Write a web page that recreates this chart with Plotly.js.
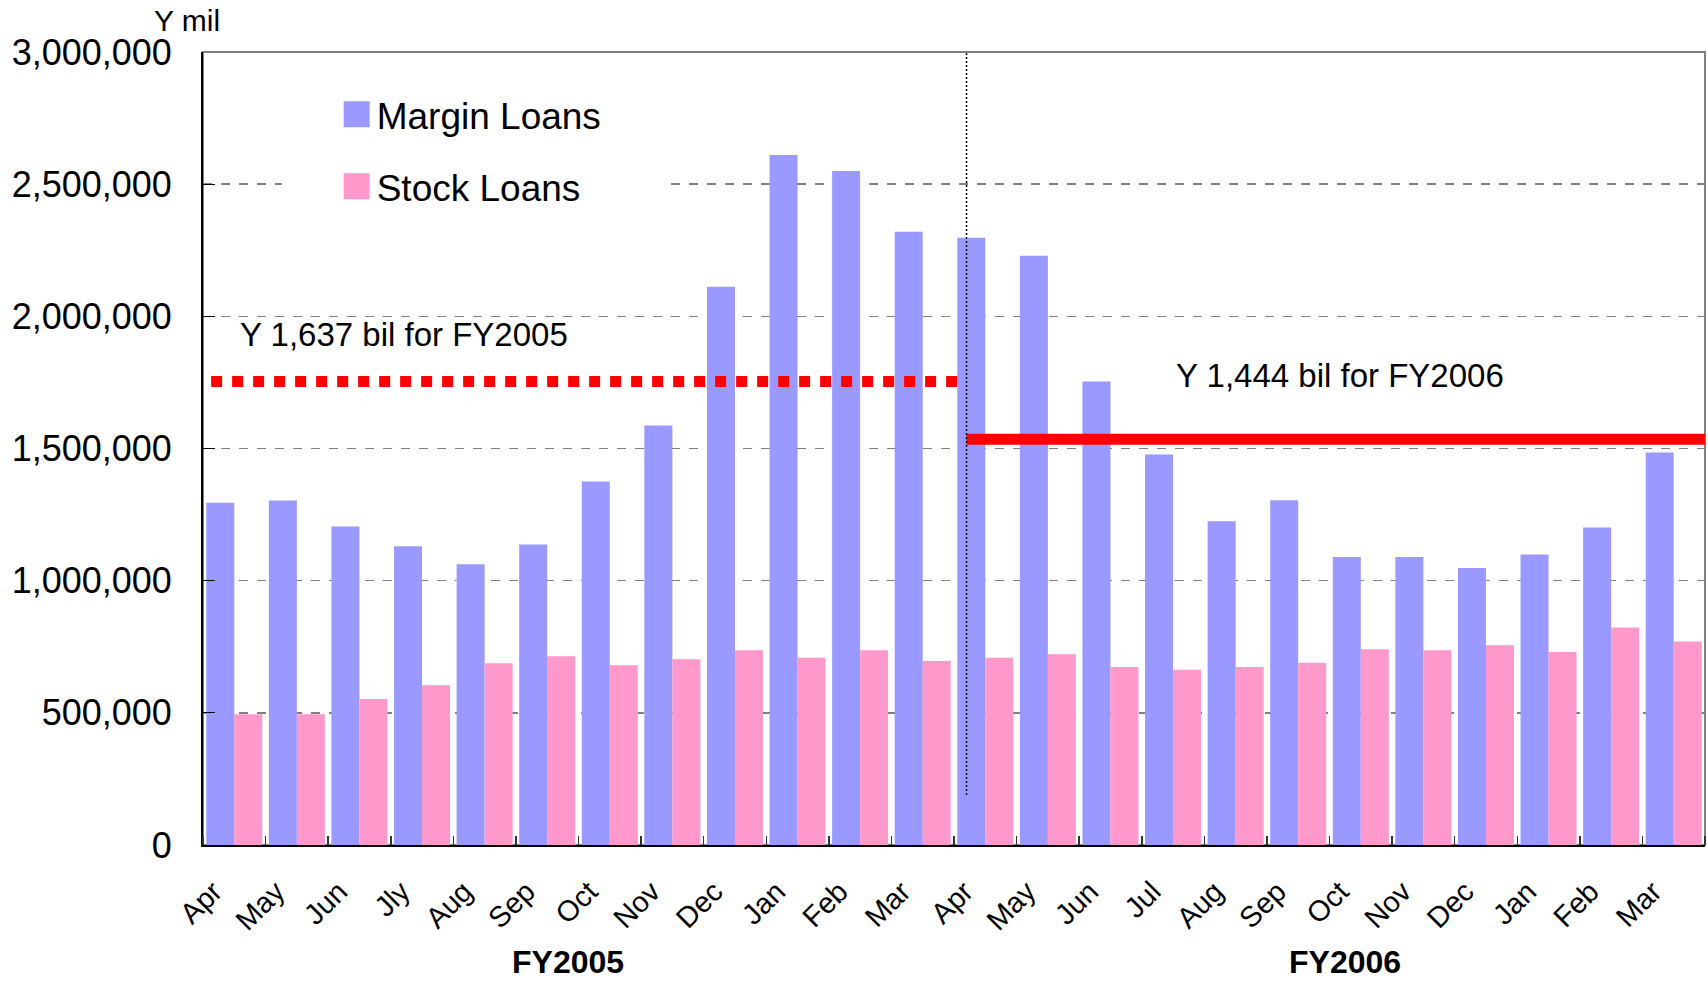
<!DOCTYPE html>
<html>
<head>
<meta charset="utf-8">
<script src="https://cdn.plot.ly/plotly-3.0.1.min.js"></script>
<style>html,body{margin:0;padding:0;background:#fff;}</style>
</head>
<body>
<div id="chart" style="width:1708px;height:987px;"></div>
<script>
// Month labels (FY2005 Apr..Mar, FY2006 Apr..Mar)
const months = ["Apr","May","Jun","Jly","Aug","Sep","Oct","Nov","Dec","Jan","Feb","Mar",
                "Apr","May","Jun","Jul","Aug","Sep","Oct","Nov","Dec","Jan","Feb","Mar"];
// Y mil
const marginLoans = [1295000,1303000,1205000,1130000,1062000,1137000,1375000,1587000,2112000,2610000,2550000,2320000,
                     2297000,2229000,1753000,1477000,1225000,1304000,1090000,1090000,1048000,1099000,1201000,1485000];
const stockLoans  = [495000,495000,552000,604000,688000,714000,680000,703000,737000,708000,737000,696000,
                     708000,722000,673000,663000,673000,689000,741000,737000,756000,730000,823000,770000];
const seriesNames = ["Margin Loans","Stock Loans"];
const fiscalYears = ["FY2005","FY2006"];
const avgLabels = ["Y 1,637 bil for FY2005","Y 1,444 bil for FY2006"];
const avgLineLevels = [1753000, 1535000];   // as drawn in the chart
const fyBoundary = 11.7;                    // divider between FY2005 and FY2006

const idx = months.map((m, i) => i);
const labelPos = idx.map(i => i - 0.33);

const traces = [
  {type:'bar', name:seriesNames[0], x:idx, y:marginLoans, marker:{color:'#9999FF'}, legendgroup:'g1'},
  {type:'bar', name:seriesNames[1], x:idx, y:stockLoans,  marker:{color:'#FF99CC'}, legendgroup:'g2'}
];

const fontFam = "Liberation Sans, Arial, sans-serif";

const layout = {
  width:1708, height:987,
  margin:{l:203, r:3, t:52, b:142},
  paper_bgcolor:'#fff', plot_bgcolor:'#fff',
  font:{family:fontFam, color:'#000'},
  barmode:'group', bargap:0.105, bargroupgap:0,
  showlegend:true,
  legend:{x:0.089, y:0.960, xanchor:'left', yanchor:'top', bgcolor:'rgba(255,255,255,0)',
          font:{size:37, family:fontFam}, tracegroupgap:21, traceorder:'grouped'},
  xaxis:{
    range:[-0.5, 23.5], tickmode:'array', tickvals:labelPos, ticktext:months,
    tickangle:-45, tickfont:{size:29, family:fontFam}, ticks:'', ticklabelstandoff:16,
    showline:true, linecolor:'#000', linewidth:2, showgrid:false, zeroline:false,
    minor:{tick0:-0.5, dtick:1, ticks:'inside', ticklen:9, tickcolor:'#333', tickwidth:1.5, showgrid:false}
  },
  yaxis:{
    range:[0, 3000000], dtick:500000, tickformat:',d',
    ticks:'inside', ticklen:12, tickcolor:'#000', tickwidth:1.2,
    tickfont:{size:36, family:fontFam}, ticklabelstandoff:22,
    showline:true, linecolor:'#000', linewidth:2,
    showgrid:true, gridcolor:'#808080', griddash:'dash', gridwidth:1.5, zeroline:false
  },
  shapes:[
    {type:'rect', xref:'paper', yref:'paper', x0:0, x1:1, y0:0, y1:1, line:{color:'#808080', width:2}, layer:'below'},
    // white area behind the legend (hides the gridline there)
    {type:'rect', xref:'x', yref:'y', x0:0.76, x1:6.88, y0:2300000, y1:2780000,
     fillcolor:'#fff', line:{width:0}, layer:'between'},
    {type:'line', xref:'x', yref:'y', x0:-0.37, x1:11.55, y0:avgLineLevels[0], y1:avgLineLevels[0],
     line:{color:'#FF0000', width:11, dash:'11px,10px'}},
    {type:'line', xref:'x', yref:'y', x0:fyBoundary, x1:23.5, y0:avgLineLevels[1], y1:avgLineLevels[1],
     line:{color:'#FF0000', width:11}},
    {type:'line', xref:'x', yref:'y', x0:fyBoundary, x1:fyBoundary, y0:189000, y1:3000000,
     line:{color:'#000', width:1.5, dash:'2px,2px'}}
  ],
  annotations:[
    {text:'Y mil', xref:'paper', yref:'paper', x:-0.034, y:1.040, xanchor:'left', yanchor:'middle',
     showarrow:false, font:{size:30, family:fontFam}},
    {text:avgLabels[0], xref:'x', yref:'y', x:0.06, y:1930000, xanchor:'left', yanchor:'middle',
     showarrow:false, font:{size:33, family:fontFam}},
    {text:avgLabels[1], xref:'x', yref:'y', x:15.01, y:1776000, xanchor:'left', yanchor:'middle',
     showarrow:false, font:{size:33, family:fontFam}},
    {text:'<b>'+fiscalYears[0]+'</b>', xref:'x', yref:'paper', x:5.33, y:-0.147, xanchor:'center', yanchor:'middle',
     showarrow:false, font:{size:32, family:fontFam}},
    {text:'<b>'+fiscalYears[1]+'</b>', xref:'x', yref:'paper', x:17.74, y:-0.147, xanchor:'center', yanchor:'middle',
     showarrow:false, font:{size:32, family:fontFam}}
  ]
};

Plotly.newPlot('chart', traces, layout, {displayModeBar:false, staticPlot:true}).then(gd => {
  // enlarge the legend swatches (keep Plotly's own translate)
  gd.querySelectorAll('.legend .legendpoints path').forEach(p => {
    p.setAttribute('d', 'M13,13H-13V-13H13Z');
  });
});
</script>
</body>
</html>
